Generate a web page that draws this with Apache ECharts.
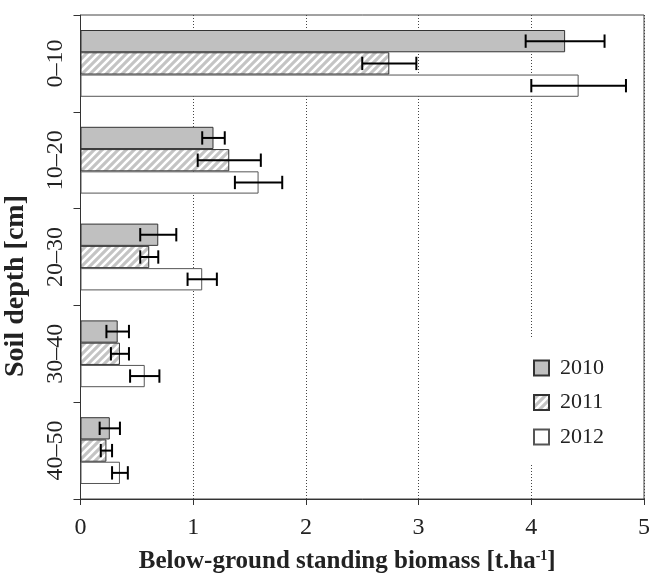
<!DOCTYPE html>
<html><head><meta charset="utf-8">
<script src="https://cdn.jsdelivr.net/npm/echarts@6/dist/echarts.min.js"></script>
<style>html,body{margin:0;padding:0;background:#fff}#c{width:649px;height:576px}</style>
</head><body><div id="c"></div>
<script>
const depths = ['0–10', '10–20', '20–30', '30–40', '40–50'];
const years = ['2010', '2011', '2012'];
const mean2010 = [4.30, 1.18, 0.69, 0.33, 0.26];
const mean2011 = [2.74, 1.32, 0.61, 0.35, 0.23];
const mean2012 = [4.42, 1.58, 1.08, 0.57, 0.35];
const err2010 = [0.35, 0.10, 0.16, 0.10, 0.09];
const err2011 = [0.24, 0.28, 0.08, 0.08, 0.05];
const err2012 = [0.42, 0.21, 0.13, 0.13, 0.07];
const xTicks = [0, 1, 2, 3, 4, 5];

const means = [mean2010, mean2011, mean2012];
const errs = [err2010, err2011, err2012];

// hatch pattern for 2011
const pc = document.createElement('canvas');
pc.width = 8; pc.height = 8;
const g = pc.getContext('2d');
g.fillStyle = '#c4c4c4'; g.fillRect(0, 0, 8, 8);
g.strokeStyle = '#ffffff'; g.lineWidth = 2.6;
g.beginPath();
g.moveTo(-2, 10); g.lineTo(10, -2);
g.moveTo(-6, 6); g.lineTo(6, -6);
g.moveTo(2, 14); g.lineTo(14, 2);
g.stroke();

const CAT_GAP = 0.31;
const styles = [
  {color: '#c0c0c0', borderColor: '#333', borderWidth: 1},
  {color: {image: pc, repeat: 'repeat'}, borderColor: '#333', borderWidth: 1},
  {color: '#ffffff', borderColor: '#555', borderWidth: 1}
];

const series = [];
years.forEach((y, i) => {
  series.push({
    name: y, type: 'bar', data: means[i],
    barGap: 0, barCategoryGap: (CAT_GAP * 100) + '%',
    itemStyle: styles[i], z: 2
  });
});
years.forEach((y, i) => {
  series.push({
    name: 'err' + y, type: 'custom', z: 5,
    encode: {x: [1, 2], y: 0},
    data: means[i].map((m, k) => [k, m - errs[i][k], m + errs[i][k]]),
    renderItem: function (params, api) {
      const cat = api.value(0);
      const band = api.size([0, 1])[1];
      const bw = band * (1 - CAT_GAP) / 3;
      const c = api.coord([0, cat]);
      const yc = c[1] + (i - 1) * bw;
      const x1 = api.coord([api.value(1), cat])[0];
      const x2 = api.coord([api.value(2), cat])[0];
      const h = bw * 0.3;
      const st = {stroke: '#000', lineWidth: 2};
      return {type: 'group', children: [
        {type: 'line', shape: {x1: x1, y1: yc, x2: x2, y2: yc}, style: st},
        {type: 'line', shape: {x1: x1, y1: yc - h, x2: x1, y2: yc + h}, style: st},
        {type: 'line', shape: {x1: x2, y1: yc - h, x2: x2, y2: yc + h}, style: st}
      ]};
    }
  });
});

const serif = '"Liberation Serif", "DejaVu Serif", serif';
const chart = echarts.init(document.getElementById('c'));
chart.setOption({
  animation: false,
  backgroundColor: '#fff',
  grid: {left: 80.5, right: 5, top: 15, bottom: 77, show: true, borderColor: '#444', borderWidth: 1,
    containLabel: false, outerBoundsMode: 'none'},
  legend: {
    data: years, orient: 'vertical', left: 527, top: 337, icon: 'rect',
    padding: [20, 8, 17, 6], backgroundColor: '#fff',
    itemWidth: 15, itemHeight: 15, itemGap: 12.5,
    textStyle: {fontFamily: serif, fontSize: 22, color: '#222', lineHeight: 22, padding: [0, 0, 0, 6]}
  },
  xAxis: {
    type: 'value', min: 0, max: 5, interval: 1,
    axisLine: {show: true, lineStyle: {color: '#333'}},
    axisTick: {show: true, length: 6, lineStyle: {color: '#333'}},
    axisLabel: {fontFamily: serif, fontSize: 24, color: '#222', margin: 17,
      formatter: v => xTicks.indexOf(v) >= 0 ? String(v) : ''},
    splitLine: {show: true, lineStyle: {type: [1, 2], color: '#444', width: 1}},
    name: '{b|Below-ground standing biomass [t.ha}{s|-1}{b|]}',
    nameLocation: 'middle', nameGap: 50,
    nameTextStyle: {padding: [0, 30, 0, 0], rich: {
      b: {fontFamily: serif, fontSize: 25, fontWeight: 'bold', color: '#222'},
      s: {fontFamily: serif, fontSize: 14, fontWeight: 'bold', color: '#222', verticalAlign: 'top', padding: [0, 0, 12, 0]}
    }}
  },
  yAxis: {
    type: 'category', data: depths, inverse: true,
    axisLine: {show: true, lineStyle: {color: '#333'}},
    axisTick: {show: true, length: 7, lineStyle: {color: '#333'}},
    axisLabel: {fontFamily: serif, fontSize: 24, color: '#222', rotate: 90, margin: 13},
    name: 'Soil depth [cm]', nameLocation: 'middle', nameGap: 51,
    nameTextStyle: {fontFamily: serif, fontSize: 28, fontWeight: 'bold', color: '#222', padding: [0, 58, 0, 0]}
  },
  series: series
});
</script></body></html>
